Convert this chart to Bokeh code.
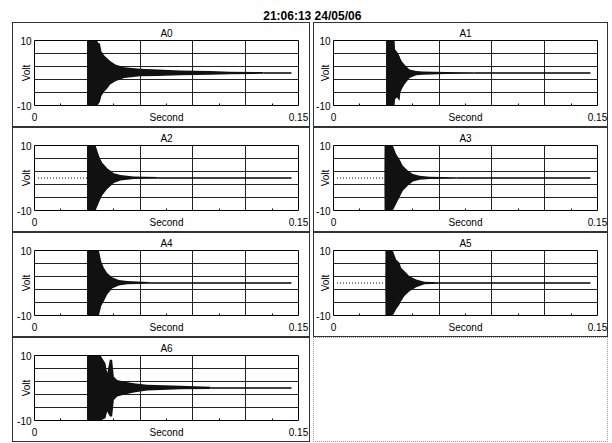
from bokeh.plotting import figure
from bokeh.layouts import gridplot, column, row
from bokeh.models import Range1d, FixedTicker, Spacer
from bokeh.embed import file_html
from bokeh.resources import INLINE
from bokeh.core.properties import value

# ---------------- data ----------------
title_text = "21:06:13 24/05/06"
channels = ["A0", "A1", "A2", "A3", "A4", "A5", "A6"]
x_ticks = [0, 0.15]
x_tick_labels = ["0", "0.15"]
y_ticks = [-10, 10]
y_tick_labels = ["-10", "10"]
x_grid = [0.03, 0.06, 0.09, 0.12]
y_grid = [-6, -2, 2, 6]
x_minor = [0.015, 0.045, 0.075, 0.105, 0.135]
x_label = "Second"
y_label = "Volt"
record_end = 0.146          # last sample (s)

# burst envelopes: time (s), upper (V), lower (V)
A0_t = [0.0299, 0.0300, 0.0355, 0.0362, 0.0372, 0.0380, 0.0395, 0.0410, 0.0430, 0.0460, 0.0510, 0.0600, 0.0700, 0.0830, 0.1000, 0.1110, 0.1300]
A0_hi = [0, 10, 10, 9.3, 9.0, 6.7, 5.5, 4.7, 3.7, 2.6, 1.8, 1.3, 1.1, 0.8, 0.6, 0.4, 0.3]
A0_lo = [0, -10, -10, -9.7, -8.8, -7.1, -5.8, -5.0, -3.5, -2.5, -1.5, -1.0, -0.9, -0.7, -0.5, -0.35, -0.25]

A1_t = [0.0299, 0.0300, 0.0347, 0.0350, 0.0362, 0.0375, 0.0380, 0.0390, 0.0403, 0.0432, 0.0470, 0.0508, 0.0640, 0.0800]
A1_hi = [0, 10, 10, 7.2, 6.5, 5.2, 4.5, 3.5, 2.6, 1.1, 0.6, 0.5, 0.3, 0.2]
A1_lo = [0, -10, -10, -8.0, -7.5, -8.6, -6.0, -4.8, -3.5, -1.5, -0.7, -0.5, -0.3, -0.2]

A2_t = [0.0299, 0.0300, 0.0347, 0.0366, 0.0384, 0.0413, 0.0451, 0.0489, 0.0564, 0.0700]
A2_hi = [0, 10, 10, 6.9, 4.8, 3.0, 1.5, 0.9, 0.5, 0.3]
A2_lo = [0, -10, -10, -7.5, -5.4, -3.4, -1.5, -0.8, -0.3, -0.2]

A3_t = [0.0289, 0.0290, 0.0337, 0.0356, 0.0375, 0.0394, 0.0422, 0.0451, 0.0489, 0.0545, 0.0700]
A3_hi = [0, 10, 10, 7.4, 5.8, 3.8, 2.3, 1.2, 0.7, 0.4, 0.2]
A3_lo = [0, -10, -10, -8.0, -5.9, -3.9, -2.4, -1.1, -0.5, -0.3, -0.2]

A4_t = [0.0299, 0.0300, 0.0366, 0.0379, 0.0394, 0.0413, 0.0441, 0.0479, 0.0527, 0.0650]
A4_hi = [0, 10, 10, 6.7, 4.7, 3.1, 1.8, 0.9, 0.6, 0.3]
A4_lo = [0, -10, -10, -7.1, -5.6, -3.5, -1.7, -0.8, -0.4, -0.2]

A5_t = [0.0294, 0.0295, 0.0337, 0.0356, 0.0375, 0.0384, 0.0403, 0.0432, 0.0470, 0.0517, 0.0600]
A5_hi = [0, 10, 10, 7.2, 6.2, 4.7, 3.7, 2.1, 1.1, 0.4, 0.2]
A5_lo = [0, -10, -10, -8.1, -6.6, -5.6, -4.0, -2.5, -1.3, -0.4, -0.2]

A6_t = [0.0299, 0.0300, 0.0375, 0.0403, 0.0413, 0.0428, 0.0441, 0.0451, 0.0470, 0.0508, 0.0564, 0.0640, 0.0830, 0.1000]
A6_hi = [0, 10, 10, 7.6, 4.6, 8.7, 8.7, 3.5, 2.5, 2.0, 1.5, 1.0, 0.7, 0.4]
A6_lo = [0, -10, -10, -9.3, -7.2, -8.8, -8.8, -3.7, -2.6, -2.1, -1.4, -0.8, -0.4, -0.3]

# channels showing a pre-trigger trace (start time, s), None otherwise
pre_trigger = [None, None, 0.002, 0.002, None, 0.002, None]

env_t = [A0_t, A1_t, A2_t, A3_t, A4_t, A5_t, A6_t]
env_hi = [A0_hi, A1_hi, A2_hi, A3_hi, A4_hi, A5_hi, A6_hi]
env_lo = [A0_lo, A1_lo, A2_lo, A3_lo, A4_lo, A5_lo, A6_lo]

# ---------------- styling ----------------
FONT = "Liberation Sans"
WL, WR, H = 298, 295, 105
PANEL_CSS = {"outline": "1px solid #333", "outline-offset": "-1px"}


def make_panel(name, t, hi, lo, pre, width, left_border):
    p = figure(width=width, height=H,
               x_range=Range1d(0, 0.15), y_range=Range1d(-10, 10),
               output_backend="svg", toolbar_location=None,
               min_border_left=left_border, min_border_right=width - left_border - 264,
               min_border_top=18, min_border_bottom=22,
               border_fill_color=None, background_fill_color="white",
               outline_line_color="black", outline_line_width=1)
    p.styles = PANEL_CSS

    # channel name as the panel title
    p.title.text = name
    p.title.align = "center"
    p.title.text_font = FONT
    p.title.text_font_size = "10px"
    p.title.text_font_style = "normal"
    p.title.text_color = "black"
    p.title.standoff = 3

    # grids
    p.xgrid.ticker = FixedTicker(ticks=x_grid)
    p.ygrid.ticker = FixedTicker(ticks=y_grid)
    p.grid.grid_line_color = "#222222"
    p.grid.grid_line_width = 1
    p.grid.grid_line_alpha = 1

    # x axis
    xa = p.xaxis[0]
    xa.ticker = FixedTicker(ticks=x_ticks, minor_ticks=x_minor)
    xa.major_label_overrides = {x_ticks[i]: x_tick_labels[i] for i in range(len(x_ticks))}
    xa.major_tick_in = 0
    xa.major_tick_out = 0
    xa.minor_tick_in = 2
    xa.minor_tick_out = 0
    xa.minor_tick_line_color = "black"
    xa.axis_line_color = None
    xa.major_label_standoff = 7
    xa.major_label_text_font = FONT
    xa.major_label_text_font_size = "10px"
    xa.major_label_text_color = "black"
    xa.axis_label = x_label
    xa.axis_label_text_font = FONT
    xa.axis_label_text_font_size = "10px"
    xa.axis_label_text_font_style = "normal"
    xa.axis_label_text_color = "black"
    xa.axis_label_standoff = -12

    # y axis
    ya = p.yaxis[0]
    ya.ticker = FixedTicker(ticks=y_ticks, minor_ticks=[])
    ya.major_label_overrides = {y_ticks[i]: y_tick_labels[i] for i in range(len(y_ticks))}
    ya.major_tick_in = 0
    ya.major_tick_out = 0
    ya.minor_tick_in = 0
    ya.minor_tick_out = 0
    ya.axis_line_color = None
    ya.major_label_standoff = 3
    ya.major_label_text_font = FONT
    ya.major_label_text_font_size = "10px"
    ya.major_label_text_color = "black"
    ya.axis_label = y_label
    ya.axis_label_text_font = FONT
    ya.axis_label_text_font_size = "10px"
    ya.axis_label_text_font_style = "normal"
    ya.axis_label_text_color = "black"
    ya.axis_label_standoff = -18

    # signal
    if pre is not None:
        p.line(x=[pre, t[0]], y=[0, 0], line_color="black",
               line_width=1.2, line_dash="1 2")
    p.varea(x=t, y1=lo, y2=hi, fill_color="#111111")
    p.line(x=[t[-1], record_end], y=[0, 0], line_color="black", line_width=1.6)
    return p


panels = []
for i in range(len(channels)):
    left_col = (i % 2 == 0)
    panels.append(make_panel(channels[i], env_t[i], env_hi[i], env_lo[i], pre_trigger[i],
                             WL if left_col else WR, 22 if left_col else 20))

empty = figure(width=WR, height=H, output_backend="svg", toolbar_location=None,
               min_border=0, border_fill_color=None, background_fill_color=None,
               outline_line_color=None)
empty.axis.visible = False
empty.grid.visible = False
empty.styles = {"outline": "1px dotted #999", "outline-offset": "-1px"}

grid = gridplot([[panels[0], panels[1]],
                 [panels[2], panels[3]],
                 [panels[4], panels[5]],
                 [panels[6], empty]], toolbar_location=None)
grid.spacing = (0, 3)

head = figure(width=WL + WR + 3, height=22, x_range=Range1d(0, 1), y_range=Range1d(0, 22),
              output_backend="svg", toolbar_location=None, min_border=0,
              border_fill_color=None, background_fill_color=None, outline_line_color=None)
head.axis.visible = False
head.grid.visible = False
head.text(x=[0.503], y=[7], text=[title_text], text_align="center",
          text_baseline="alphabetic", text_font=value(FONT),
          text_font_size="12px", text_font_style="bold", text_color="black")

layout = row(Spacer(width=12, height=10), column(head, grid, spacing=0), spacing=0)

open("out.html", "w").write(file_html(layout, INLINE))
